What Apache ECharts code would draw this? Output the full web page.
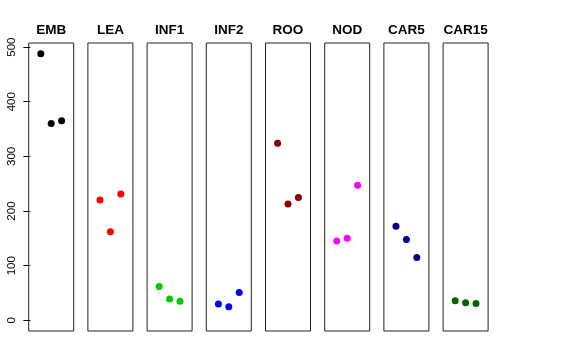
<!DOCTYPE html>
<html><head><meta charset="utf-8">
<script src="https://cdn.jsdelivr.net/npm/echarts@6/dist/echarts.min.js"></script>
<style>html,body{margin:0;padding:0;background:#fff}#c{width:576px;height:360px}</style>
</head><body><div id="c"></div>
<script>
const categories = ['EMB','LEA','INF1','INF2','ROO','NOD','CAR5','CAR15'];
const colors = ['#000000','#FF0000','#00CD00','#0000FF','#8B0000','#FF00FF','#00008B','#006400'];
const EMB = [488, 360, 365];
const LEA = [220, 162, 231];
const INF1 = [62, 39, 35];
const INF2 = [30, 25, 51];
const ROO = [324, 213, 225];
const NOD = [145, 150, 247];
const CAR5 = [172, 148, 115];
const CAR15 = [36, 32, 31];
const seriesValues = [EMB, LEA, INF1, INF2, ROO, NOD, CAR5, CAR15];
const yTicks = [0, 100, 200, 300, 400, 500];

const chart = echarts.init(document.getElementById('c'), null, {renderer:'canvas'});
const panelLeft0 = 28.7, panelStep = 59.2, panelW = 45, panelTop = 43, panelH = 288;
const grids = [], xAxes = [], yAxes = [], series = [], graphics = [];
categories.forEach((cat, i) => {
  const left = panelLeft0 + i * panelStep;
  grids.push({left: left, top: panelTop, width: panelW, height: panelH, show: true,
    borderColor: '#222', borderWidth: 1, backgroundColor: 'transparent'});
  xAxes.push({type: 'value', gridIndex: i, min: -0.16, max: 4.16, show: false});
  yAxes.push({type: 'value', gridIndex: i, min: -19.5, max: 507.5, show: i === 0,
    splitLine: {show: false},
    axisLine: {show: false},
    axisTick: {show: true, length: 7, customValues: yTicks, lineStyle: {color: '#000', width: 1}},
    axisLabel: {show: true, customValues: yTicks, rotate: 90, margin: 11,
      color: '#000', fontSize: 11.5, fontFamily: 'Liberation Sans, Arial, sans-serif'}
  });
  series.push({type: 'scatter', xAxisIndex: i, yAxisIndex: i, symbol: 'circle', symbolSize: 7,
    itemStyle: {color: colors[i], opacity: 1}, silent: true,
    data: seriesValues[i].map((v, j) => [j + 1, v])});
  graphics.push({type: 'text', x: left + panelW / 2, y: 30,
    style: {text: cat, fill: '#000', font: 'bold 13.5px "Liberation Sans", Arial, sans-serif',
      textAlign: 'center', textVerticalAlign: 'middle'}});
});
chart.setOption({animation: false, grid: grids, xAxis: xAxes, yAxis: yAxes, series: series, graphic: graphics});
</script></body></html>
